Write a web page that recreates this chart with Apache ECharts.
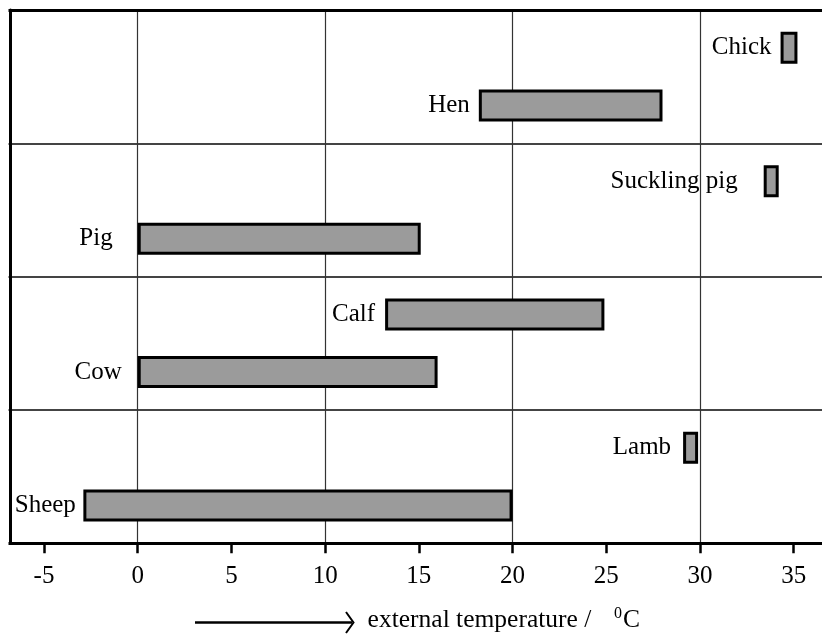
<!DOCTYPE html>
<html>
<head>
<meta charset="utf-8">
<script src="https://cdn.jsdelivr.net/npm/echarts@6/dist/echarts.min.js"></script>
<style>
html,body{margin:0;padding:0;background:#fff;}
#c{width:822px;height:637px;}
</style>
</head>
<body>
<div id="c"></div>
<script>
// groups, bottom to top
var groups = ['Sheep', 'Cattle', 'Pigs', 'Poultry'];
// young animals (upper bar in each group)
var youngNames = ['Lamb', 'Calf', 'Suckling pig', 'Chick'];
var youngLow   = [29.1, 13.2, 33.4, 34.3];
var youngHigh  = [29.9, 24.9, 34.2, 35.2];
// adult animals (lower bar in each group)
var adultNames = ['Sheep', 'Cow', 'Pig', 'Hen'];
var adultLow   = [-2.9, 0, 0, 18.2];
var adultHigh  = [20.0, 16.0, 15.1, 28.0];
// axis ticks
var tickStep = 5;
var gridStep = 10;

// label gaps (style)
var labelGap = {Chick: 9, Hen: 9, 'Suckling pig': 26, Pig: 25, Calf: 10, Cow: 16, Lamb: 12, Sheep: 7.5};

var FONT = '"Liberation Serif", "Times New Roman", serif';

function rangeData(names, low, high) {
  return low.map(function (l, i) {
    return {
      value: +(high[i] - l).toFixed(3),
      name: names[i],
      label: {distance: labelGap[names[i]] || 9}
    };
  });
}

var barStyle = {color: '#9b9b9b', borderColor: '#000', borderWidth: 3};
var labelStyle = {
  show: true, position: 'left', color: '#000',
  fontFamily: FONT, fontSize: 25,
  formatter: function (p) { return p.data.name; }
};
var common = {type: 'bar', barWidth: 32, barGap: '80%', stackStrategy: 'all', animation: false};

var chart = echarts.init(document.getElementById('c'), null, {renderer: 'canvas'});
chart.setOption({
  backgroundColor: '#fff',
  animation: false,
  grid: {left: -49.7, right: -65.4, top: 10, bottom: 93.7, containLabel: false, outerBoundsMode: 'none'},
  xAxis: [{
    type: 'value', min: -10, max: 40, interval: tickStep, position: 'bottom',
    axisLine: {show: true, onZero: false, lineStyle: {color: '#000', width: 3}},
    axisTick: {show: true, length: 10, lineStyle: {color: '#000', width: 2.5}},
    axisLabel: {show: true, margin: 21, color: '#000', fontFamily: FONT, fontSize: 25},
    splitLine: {show: false},
    name: '{t|external temperature /  }{s|0}{t|C}',
    nameLocation: 'middle', nameGap: 62,
    nameTextStyle: {
      padding: [0, 0, 0, 170],
      rich: {
        t: {fontFamily: FONT, fontSize: 25.5, color: '#000', lineHeight: 28, verticalAlign: 'bottom'},
        s: {fontFamily: FONT, fontSize: 16, color: '#000', lineHeight: 28, verticalAlign: 'top', padding: [0, 1, 0, 10]}
      }
    }
  }, {
    type: 'value', min: -10, max: 40, interval: gridStep, position: 'top',
    axisLine: {show: true, onZero: false, lineStyle: {color: '#000', width: 3}},
    axisTick: {show: false}, axisLabel: {show: false},
    splitLine: {show: true, lineStyle: {color: '#333', width: 1.2}}
  }],
  yAxis: {
    type: 'category', data: groups, offset: -59.7,
    axisLine: {show: true, onZero: false, lineStyle: {color: '#000', width: 3}},
    axisTick: {show: false}, axisLabel: {show: false},
    splitLine: {show: true, lineStyle: {color: '#444', width: 2}}
  },
  series: [
    Object.assign({}, common, {name: 'youngBase', stack: 'young', silent: true,
      data: youngLow, itemStyle: {color: 'rgba(0,0,0,0)'}}),
    Object.assign({}, common, {name: 'young', stack: 'young',
      data: rangeData(youngNames, youngLow, youngHigh), itemStyle: barStyle, label: labelStyle}),
    Object.assign({}, common, {name: 'adultBase', stack: 'adult', silent: true,
      data: adultLow, itemStyle: {color: 'rgba(0,0,0,0)'}}),
    Object.assign({}, common, {name: 'adult', stack: 'adult',
      data: rangeData(adultNames, adultLow, adultHigh), itemStyle: barStyle, label: labelStyle})
  ],
  graphic: [{
    type: 'rect', silent: true, z: 100, left: 0, top: 0,
    shape: {x: 0, y: 0, width: 8.5, height: 560},
    style: {fill: '#fff'}
  }, {
    type: 'group', silent: true,
    children: [
      {type: 'line', shape: {x1: 195, y1: 622.5, x2: 352, y2: 622.5}, style: {stroke: '#000', lineWidth: 2.5}},
      {type: 'polyline', shape: {points: [[346, 612], [353.5, 622.5], [346, 633]]}, style: {stroke: '#000', lineWidth: 2, fill: null}}
    ]
  }]
});
</script>
</body>
</html>
